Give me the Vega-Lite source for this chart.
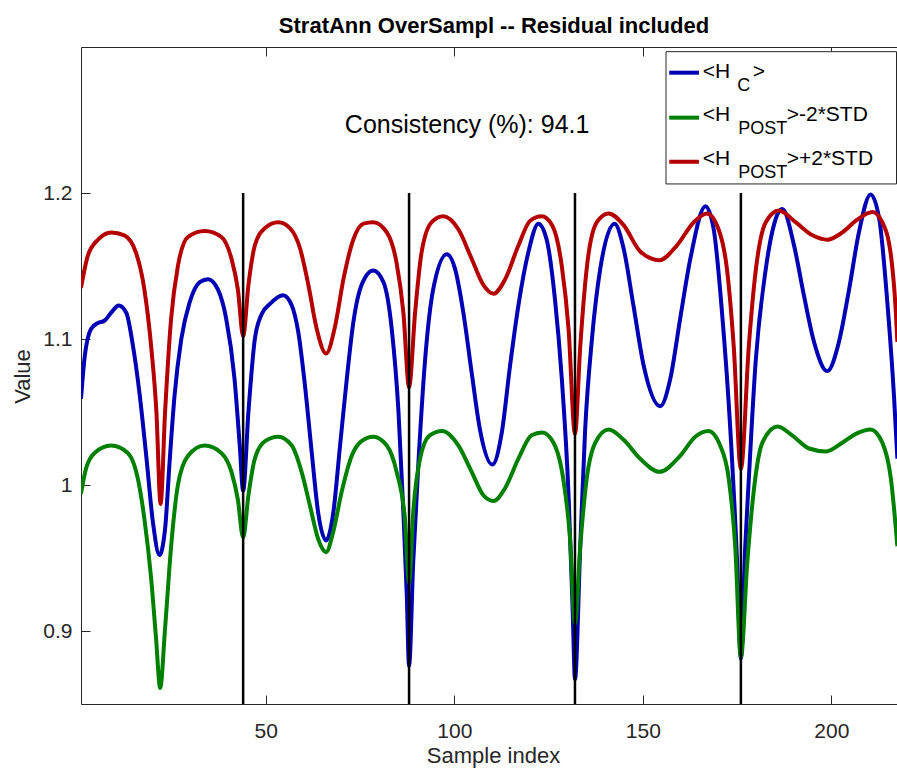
{
  "$schema": "https://vega.github.io/schema/vega-lite/v6.json",
  "width": 816,
  "height": 657,
  "autosize": {"type": "none"},
  "padding": {"left": 81, "top": 47, "right": 0, "bottom": 65},
  "background": "white",
  "title": {"text": "StratAnn OverSampl -- Residual included", "font": "Liberation Sans", "fontSize": 22, "fontWeight": "bold", "color": "#000000", "anchor": "middle", "dx": 5, "dy": 26, "offset": 18, "baseline": "alphabetic"},
  "resolve": {"axis": {"x": "independent", "y": "independent"}},
  "config": {
    "view": {"stroke": null},
    "axis": {"labelFont": "Liberation Sans", "titleFont": "Liberation Sans", "labelFontSize": 21, "titleFontSize": 22, "labelColor": "#262626", "titleColor": "#262626", "domainColor": "#262626", "tickColor": "#262626", "grid": false, "tickSize": -9, "titleFontWeight": "normal", "domainWidth": 1, "tickWidth": 1}
  },
  "datasets": {
    "curves": [
      {"s":"HC","x":1,"y":1.059},{"s":"HC","x":1.9,"y":1.086},{"s":"HC","x":3.7,"y":1.107},{"s":"HC","x":5.5,"y":1.111},{"s":"HC","x":7.2,"y":1.1125},{"s":"HC","x":9,"y":1.118},{"s":"HC","x":11,"y":1.123},{"s":"HC","x":13,"y":1.118},{"s":"HC","x":14.8,"y":1.095},{"s":"HC","x":16.6,"y":1.061},{"s":"HC","x":18.3,"y":1.02},{"s":"HC","x":20.1,"y":0.974},{"s":"HC","x":21.8,"y":0.952},{"s":"HC","x":23.3,"y":0.97},{"s":"HC","x":24.5,"y":1.016},{"s":"HC","x":25.8,"y":1.061},{"s":"HC","x":27.6,"y":1.1},{"s":"HC","x":29.8,"y":1.125},{"s":"HC","x":32.5,"y":1.139},{"s":"HC","x":34.7,"y":1.141},{"s":"HC","x":37.3,"y":1.134},{"s":"HC","x":39.5,"y":1.114},{"s":"HC","x":41.7,"y":1.073},{"s":"HC","x":43.1,"y":1.027},{"s":"HC","x":44,"y":0.996},{"s":"HC","x":45.4,"y":1.05},{"s":"HC","x":47.1,"y":1.1},{"s":"HC","x":48.9,"y":1.117},{"s":"HC","x":51.1,"y":1.124},{"s":"HC","x":54.6,"y":1.13},{"s":"HC","x":56.9,"y":1.123},{"s":"HC","x":58.6,"y":1.105},{"s":"HC","x":60.4,"y":1.068},{"s":"HC","x":62.2,"y":1.022},{"s":"HC","x":63.9,"y":0.981},{"s":"HC","x":66,"y":0.962},{"s":"HC","x":67.9,"y":0.981},{"s":"HC","x":69.7,"y":1.027},{"s":"HC","x":71.5,"y":1.073},{"s":"HC","x":73.2,"y":1.111},{"s":"HC","x":75.4,"y":1.137},{"s":"HC","x":78.5,"y":1.147},{"s":"HC","x":81.2,"y":1.139},{"s":"HC","x":83.4,"y":1.107},{"s":"HC","x":85.2,"y":1.05},{"s":"HC","x":86.5,"y":0.981},{"s":"HC","x":87.4,"y":0.924},{"s":"HC","x":88,"y":0.876},{"s":"HC","x":89.1,"y":0.947},{"s":"HC","x":90.5,"y":1.016},{"s":"HC","x":92.2,"y":1.084},{"s":"HC","x":94.4,"y":1.134},{"s":"HC","x":98,"y":1.158},{"s":"HC","x":100.2,"y":1.148},{"s":"HC","x":102.4,"y":1.118},{"s":"HC","x":104.6,"y":1.077},{"s":"HC","x":106.8,"y":1.038},{"s":"HC","x":110.1,"y":1.014},{"s":"HC","x":112.6,"y":1.036},{"s":"HC","x":114.8,"y":1.082},{"s":"HC","x":117,"y":1.123},{"s":"HC","x":119.6,"y":1.159},{"s":"HC","x":122.3,"y":1.179},{"s":"HC","x":124.5,"y":1.168},{"s":"HC","x":126.7,"y":1.127},{"s":"HC","x":128.5,"y":1.073},{"s":"HC","x":130.3,"y":0.993},{"s":"HC","x":131.4,"y":0.913},{"s":"HC","x":132,"y":0.867},{"s":"HC","x":133.4,"y":0.958},{"s":"HC","x":134.7,"y":1.038},{"s":"HC","x":136.5,"y":1.1},{"s":"HC","x":138.7,"y":1.148},{"s":"HC","x":142.5,"y":1.179},{"s":"HC","x":144.9,"y":1.162},{"s":"HC","x":147.5,"y":1.123},{"s":"HC","x":150.2,"y":1.082},{"s":"HC","x":154.6,"y":1.054},{"s":"HC","x":157.3,"y":1.073},{"s":"HC","x":159.9,"y":1.114},{"s":"HC","x":162.6,"y":1.155},{"s":"HC","x":166.6,"y":1.191},{"s":"HC","x":168.8,"y":1.175},{"s":"HC","x":171,"y":1.118},{"s":"HC","x":173.2,"y":1.038},{"s":"HC","x":175,"y":0.947},{"s":"HC","x":176,"y":0.881},{"s":"HC","x":177.1,"y":0.955},{"s":"HC","x":178.1,"y":1.004},{"s":"HC","x":179.9,"y":1.084},{"s":"HC","x":182.6,"y":1.148},{"s":"HC","x":187,"y":1.189},{"s":"HC","x":190.1,"y":1.164},{"s":"HC","x":192.7,"y":1.13},{"s":"HC","x":195.4,"y":1.098},{"s":"HC","x":198.9,"y":1.078},{"s":"HC","x":202,"y":1.098},{"s":"HC","x":204.7,"y":1.134},{"s":"HC","x":207.3,"y":1.173},{"s":"HC","x":210.4,"y":1.199},{"s":"HC","x":212.7,"y":1.182},{"s":"HC","x":214.9,"y":1.123},{"s":"HC","x":216.6,"y":1.061},{"s":"HC","x":217.5,"y":1.018},
      {"s":"LO","x":1,"y":0.994},{"s":"LO","x":2.3,"y":1.011},{"s":"LO","x":4.6,"y":1.022},{"s":"LO","x":9,"y":1.027},{"s":"LO","x":13.4,"y":1.022},{"s":"LO","x":16.1,"y":1.004},{"s":"LO","x":17.8,"y":0.977},{"s":"LO","x":19.6,"y":0.936},{"s":"LO","x":20.9,"y":0.895},{"s":"LO","x":22,"y":0.861},{"s":"LO","x":23.3,"y":0.902},{"s":"LO","x":24.9,"y":0.958},{"s":"LO","x":26.7,"y":1.0},{"s":"LO","x":29.4,"y":1.02},{"s":"LO","x":33.8,"y":1.027},{"s":"LO","x":38.2,"y":1.022},{"s":"LO","x":40.9,"y":1.009},{"s":"LO","x":42.6,"y":0.99},{"s":"LO","x":44,"y":0.964},{"s":"LO","x":45.4,"y":0.993},{"s":"LO","x":47.1,"y":1.018},{"s":"LO","x":49.8,"y":1.03},{"s":"LO","x":53.3,"y":1.033},{"s":"LO","x":56.9,"y":1.027},{"s":"LO","x":59.5,"y":1.009},{"s":"LO","x":61.7,"y":0.986},{"s":"LO","x":63.9,"y":0.963},{"s":"LO","x":66,"y":0.954},{"s":"LO","x":67.9,"y":0.968},{"s":"LO","x":70.1,"y":0.995},{"s":"LO","x":72.8,"y":1.02},{"s":"LO","x":75.4,"y":1.03},{"s":"LO","x":78.5,"y":1.033},{"s":"LO","x":82.1,"y":1.027},{"s":"LO","x":84.7,"y":1.009},{"s":"LO","x":86.9,"y":0.977},{"s":"LO","x":88,"y":0.933},{"s":"LO","x":89.1,"y":0.981},{"s":"LO","x":90.9,"y":1.018},{"s":"LO","x":93.5,"y":1.034},{"s":"LO","x":96.8,"y":1.037},{"s":"LO","x":101.1,"y":1.027},{"s":"LO","x":104.6,"y":1.009},{"s":"LO","x":107.7,"y":0.993},{"s":"LO","x":110.4,"y":0.989},{"s":"LO","x":113.5,"y":0.998},{"s":"LO","x":117,"y":1.018},{"s":"LO","x":120.5,"y":1.034},{"s":"LO","x":123.3,"y":1.036},{"s":"LO","x":126.3,"y":1.029},{"s":"LO","x":128.9,"y":1.004},{"s":"LO","x":130.7,"y":0.963},{"s":"LO","x":132,"y":0.905},{"s":"LO","x":133.4,"y":0.958},{"s":"LO","x":135.1,"y":1.004},{"s":"LO","x":137.4,"y":1.029},{"s":"LO","x":140.9,"y":1.038},{"s":"LO","x":144.9,"y":1.031},{"s":"LO","x":149.3,"y":1.018},{"s":"LO","x":154.4,"y":1.009},{"s":"LO","x":159.9,"y":1.02},{"s":"LO","x":163.9,"y":1.033},{"s":"LO","x":167.4,"y":1.037},{"s":"LO","x":170.5,"y":1.027},{"s":"LO","x":172.8,"y":1.004},{"s":"LO","x":174.5,"y":0.958},{"s":"LO","x":176,"y":0.882},{"s":"LO","x":177.7,"y":0.947},{"s":"LO","x":179.5,"y":0.998},{"s":"LO","x":181.7,"y":1.029},{"s":"LO","x":185.7,"y":1.04},{"s":"LO","x":189.6,"y":1.034},{"s":"LO","x":194.1,"y":1.025},{"s":"LO","x":198.5,"y":1.023},{"s":"LO","x":202.9,"y":1.029},{"s":"LO","x":206.5,"y":1.035},{"s":"LO","x":210.4,"y":1.038},{"s":"LO","x":213.5,"y":1.029},{"s":"LO","x":215.8,"y":1.004},{"s":"LO","x":217.5,"y":0.958},
      {"s":"HI","x":1,"y":1.135},{"s":"HI","x":2.8,"y":1.157},{"s":"HI","x":5.5,"y":1.168},{"s":"HI","x":9,"y":1.173},{"s":"HI","x":12.5,"y":1.171},{"s":"HI","x":15.6,"y":1.159},{"s":"HI","x":17.8,"y":1.134},{"s":"HI","x":19.6,"y":1.095},{"s":"HI","x":21,"y":1.05},{"s":"HI","x":22.1,"y":0.987},{"s":"HI","x":23.3,"y":1.05},{"s":"HI","x":24.9,"y":1.114},{"s":"HI","x":26.7,"y":1.15},{"s":"HI","x":29.4,"y":1.17},{"s":"HI","x":33.8,"y":1.174},{"s":"HI","x":38.2,"y":1.17},{"s":"HI","x":40.9,"y":1.155},{"s":"HI","x":42.6,"y":1.134},{"s":"HI","x":44,"y":1.102},{"s":"HI","x":45.4,"y":1.137},{"s":"HI","x":47.1,"y":1.164},{"s":"HI","x":49.8,"y":1.176},{"s":"HI","x":53.3,"y":1.18},{"s":"HI","x":56.4,"y":1.176},{"s":"HI","x":59.1,"y":1.162},{"s":"HI","x":61.3,"y":1.137},{"s":"HI","x":63.5,"y":1.107},{"s":"HI","x":66,"y":1.09},{"s":"HI","x":68.4,"y":1.109},{"s":"HI","x":70.6,"y":1.141},{"s":"HI","x":73.2,"y":1.168},{"s":"HI","x":75.9,"y":1.179},{"s":"HI","x":78.5,"y":1.18},{"s":"HI","x":82.1,"y":1.173},{"s":"HI","x":84.7,"y":1.152},{"s":"HI","x":86.5,"y":1.118},{"s":"HI","x":88,"y":1.067},{"s":"HI","x":89.6,"y":1.118},{"s":"HI","x":91.3,"y":1.159},{"s":"HI","x":94,"y":1.18},{"s":"HI","x":97.1,"y":1.184},{"s":"HI","x":101.1,"y":1.175},{"s":"HI","x":104.6,"y":1.155},{"s":"HI","x":107.7,"y":1.137},{"s":"HI","x":110.4,"y":1.131},{"s":"HI","x":113.5,"y":1.141},{"s":"HI","x":117,"y":1.164},{"s":"HI","x":120.1,"y":1.181},{"s":"HI","x":123.2,"y":1.184},{"s":"HI","x":125.9,"y":1.178},{"s":"HI","x":128.5,"y":1.15},{"s":"HI","x":130.3,"y":1.107},{"s":"HI","x":132,"y":1.035},{"s":"HI","x":133.4,"y":1.095},{"s":"HI","x":135.1,"y":1.148},{"s":"HI","x":137.8,"y":1.18},{"s":"HI","x":140.9,"y":1.186},{"s":"HI","x":144.9,"y":1.178},{"s":"HI","x":149.3,"y":1.16},{"s":"HI","x":154.4,"y":1.154},{"s":"HI","x":159,"y":1.164},{"s":"HI","x":163.5,"y":1.18},{"s":"HI","x":167,"y":1.186},{"s":"HI","x":170.1,"y":1.175},{"s":"HI","x":172.3,"y":1.148},{"s":"HI","x":174.1,"y":1.095},{"s":"HI","x":176,"y":1.011},{"s":"HI","x":178.1,"y":1.095},{"s":"HI","x":179.9,"y":1.146},{"s":"HI","x":182.6,"y":1.18},{"s":"HI","x":186.1,"y":1.188},{"s":"HI","x":190.5,"y":1.18},{"s":"HI","x":195,"y":1.171},{"s":"HI","x":198.9,"y":1.168},{"s":"HI","x":202.9,"y":1.173},{"s":"HI","x":206.5,"y":1.181},{"s":"HI","x":210.9,"y":1.187},{"s":"HI","x":213.5,"y":1.18},{"s":"HI","x":215.8,"y":1.157},{"s":"HI","x":217.1,"y":1.118},{"s":"HI","x":217.5,"y":1.098}
    ],
    "legendText": [
      {"t":"<H","r":"main","x":165.87,"y":1.2786},
      {"t":"C","r":"sub","x":175.05,"y":1.2699},
      {"t":">","r":"main","x":179.14,"y":1.2786},
      {"t":"<H","r":"main","x":165.87,"y":1.2493},
      {"t":"POST","r":"sub","x":175.32,"y":1.2402},
      {"t":">-2*STD","r":"main","x":188.15,"y":1.2493},
      {"t":"<H","r":"main","x":165.87,"y":1.2192},
      {"t":"POST","r":"sub","x":175.32,"y":1.2101},
      {"t":">+2*STD","r":"main","x":188.15,"y":1.2192}
    ]
  },
  "layer": [
    {
      "data": {"name": "curves"},
      "transform": [{"filter": "datum.s === 'HC'"}],
      "mark": {"type": "line", "interpolate": "monotone", "strokeWidth": 4, "color": "#0000b4", "clip": true},
      "encoding": {
        "x": {"field": "x", "type": "quantitative", "scale": {"domain": [1, 217.4], "nice": false, "zero": false},
              "axis": {"orient": "bottom", "values": [50, 100, 150, 200], "title": "Sample index", "labelPadding": 42, "labelBaseline": "alphabetic", "titleBaseline": "alphabetic", "titleX": 412, "titleY": 58, "titleAlign": "center"}},
        "y": {"field": "y", "type": "quantitative", "scale": {"domain": [0.85, 1.3], "nice": false, "zero": false},
              "axis": {"orient": "left", "values": [0.9, 1, 1.1, 1.2], "format": "~g", "title": "Value", "labelPadding": 18, "titleX": -52, "titleY": 329, "titleBaseline": "alphabetic", "titleAlign": "center"}}
      }
    },
    {
      "data": {"name": "curves"},
      "transform": [{"filter": "datum.s === 'LO'"}],
      "mark": {"type": "line", "interpolate": "monotone", "strokeWidth": 4, "color": "#008000", "clip": true},
      "encoding": {
        "x": {"field": "x", "type": "quantitative", "scale": {"domain": [1, 217.4], "nice": false, "zero": false}, "axis": null},
        "y": {"field": "y", "type": "quantitative", "scale": {"domain": [0.85, 1.3], "nice": false, "zero": false}, "axis": null}
      }
    },
    {
      "data": {"name": "curves"},
      "transform": [{"filter": "datum.s === 'HI'"}],
      "mark": {"type": "line", "interpolate": "monotone", "strokeWidth": 4, "color": "#b40000", "clip": true},
      "encoding": {
        "x": {"field": "x", "type": "quantitative", "scale": {"domain": [1, 217.4], "nice": false, "zero": false}, "axis": null},
        "y": {"field": "y", "type": "quantitative", "scale": {"domain": [0.85, 1.3], "nice": false, "zero": false}, "axis": null}
      }
    },
    {
      "data": {"values": [{"b": 44}, {"b": 88}, {"b": 132}, {"b": 176}]},
      "mark": {"type": "rule", "color": "#000000", "strokeWidth": 2.5},
      "encoding": {
        "x": {"field": "b", "type": "quantitative", "scale": {"domain": [1, 217.4], "nice": false, "zero": false},
              "axis": {"orient": "top", "values": [50, 100, 150, 200], "labels": false, "title": null}},
        "y": {"datum": 1.2, "type": "quantitative", "scale": {"domain": [0.85, 1.3], "nice": false, "zero": false}, "axis": null},
        "y2": {"datum": 0.85}
      }
    },
    {
      "data": {"values": [{"label": "Consistency (%): 94.1", "x": 103.4, "y": 1.2411}]},
      "mark": {"type": "text", "align": "center", "baseline": "alphabetic", "font": "Liberation Sans", "fontSize": 25, "color": "#000000"},
      "encoding": {
        "x": {"field": "x", "type": "quantitative", "scale": {"domain": [1, 217.4], "nice": false, "zero": false}, "axis": null},
        "y": {"field": "y", "type": "quantitative", "scale": {"domain": [0.85, 1.3], "nice": false, "zero": false}, "axis": null},
        "text": {"field": "label"}
      }
    },
    {
      "data": {"values": [{"x": 156.14, "x2": 217.27, "y": 1.2968, "y2": 1.2062}]},
      "mark": {"type": "rect", "fill": "#ffffff", "stroke": "#262626", "strokeWidth": 1},
      "encoding": {
        "x": {"field": "x", "type": "quantitative", "scale": {"domain": [1, 217.4], "nice": false, "zero": false}, "axis": null},
        "x2": {"field": "x2"},
        "y": {"field": "y", "type": "quantitative", "scale": {"domain": [0.85, 1.3], "nice": false, "zero": false}, "axis": null},
        "y2": {"field": "y2"}
      }
    },
    {
      "data": {"values": [
        {"s": "HC", "x": 157.0, "x2": 164.89, "y": 1.2824},
        {"s": "LO", "x": 157.0, "x2": 164.89, "y": 1.2516},
        {"s": "HI", "x": 157.0, "x2": 164.89, "y": 1.2214}
      ]},
      "mark": {"type": "rule", "strokeWidth": 4},
      "encoding": {
        "x": {"field": "x", "type": "quantitative", "scale": {"domain": [1, 217.4], "nice": false, "zero": false}, "axis": null},
        "x2": {"field": "x2"},
        "y": {"field": "y", "type": "quantitative", "scale": {"domain": [0.85, 1.3], "nice": false, "zero": false}, "axis": null},
        "color": {"field": "s", "type": "nominal", "scale": {"domain": ["HC", "LO", "HI"], "range": ["#0000b4", "#008000", "#b40000"]}, "legend": null}
      }
    },
    {
      "data": {"name": "legendText"},
      "transform": [{"filter": "datum.r === 'main'"}],
      "mark": {"type": "text", "align": "left", "baseline": "alphabetic", "font": "Liberation Sans", "fontSize": 21, "color": "#000000"},
      "encoding": {
        "x": {"field": "x", "type": "quantitative", "scale": {"domain": [1, 217.4], "nice": false, "zero": false}, "axis": null},
        "y": {"field": "y", "type": "quantitative", "scale": {"domain": [0.85, 1.3], "nice": false, "zero": false}, "axis": null},
        "text": {"field": "t"}
      }
    },
    {
      "data": {"name": "legendText"},
      "transform": [{"filter": "datum.r === 'sub'"}],
      "mark": {"type": "text", "align": "left", "baseline": "alphabetic", "font": "Liberation Sans", "fontSize": 18, "color": "#000000"},
      "encoding": {
        "x": {"field": "x", "type": "quantitative", "scale": {"domain": [1, 217.4], "nice": false, "zero": false}, "axis": null},
        "y": {"field": "y", "type": "quantitative", "scale": {"domain": [0.85, 1.3], "nice": false, "zero": false}, "axis": null},
        "text": {"field": "t"}
      }
    }
  ]
}
